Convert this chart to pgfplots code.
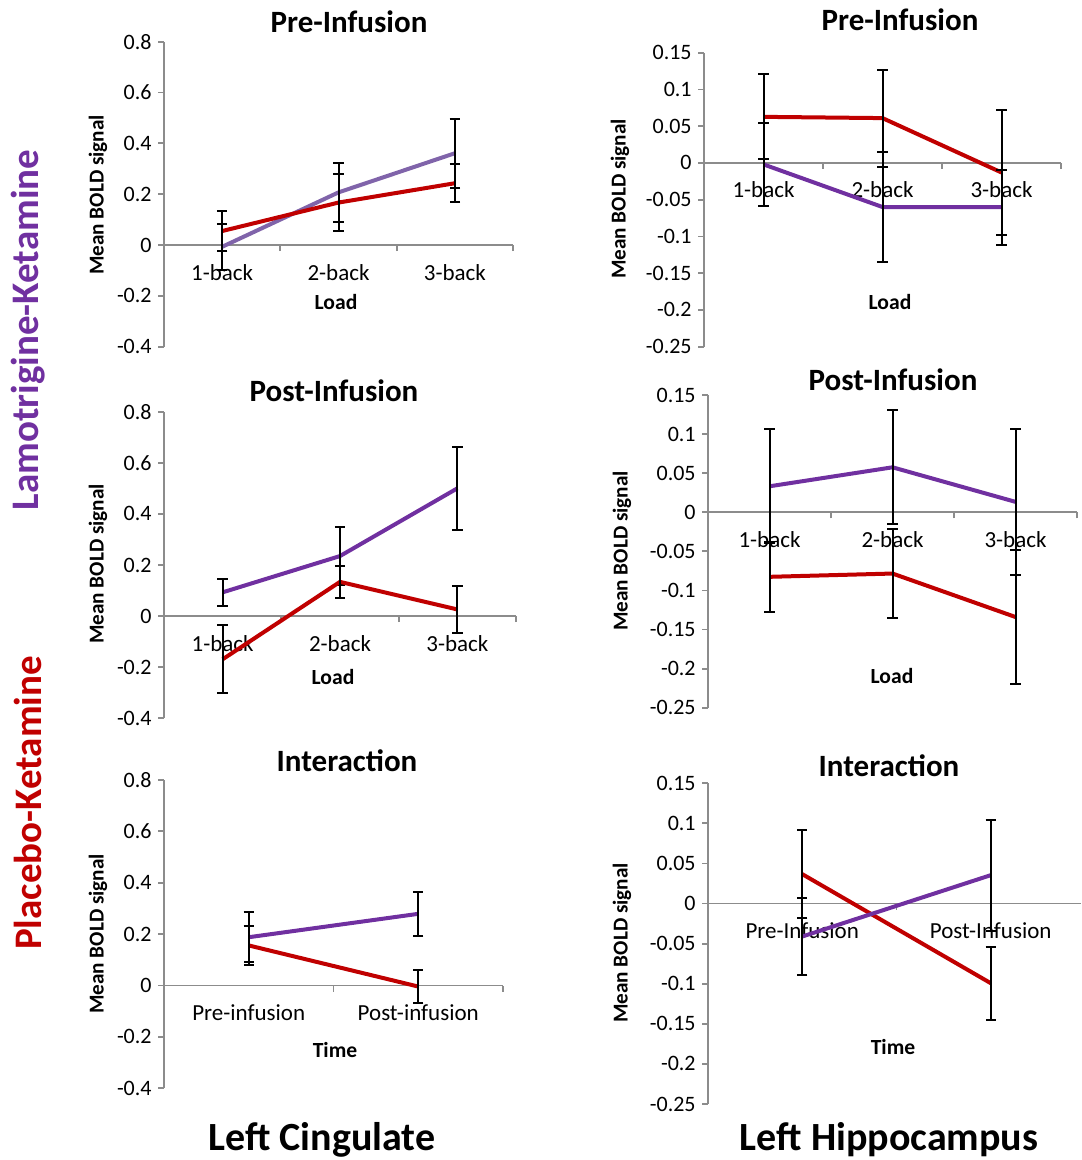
\documentclass[border=0pt]{standalone}
\usepackage{fontspec}
\setmainfont{Carlito}
\usepackage{pgfplots}
\pgfplotsset{compat=1.18}
\definecolor{axgray}{RGB}{140,140,140}
\definecolor{pur}{RGB}{112,48,160}
\definecolor{lpur}{RGB}{128,100,170}
\definecolor{dred}{RGB}{192,0,0}
\pgfplotsset{
  panel/.style={
    scale only axis, anchor=south west, clip=false,
    axis x line=middle, axis y line=left,
    axis line style={-, draw=axgray, line width=0.9pt},
    hide obscured x ticks=false, hide obscured y ticks=false,
    tick align=outside, major tick length=3pt, minor tick length=3pt,
    y tick style={draw=axgray, line width=0.9pt},
    major x tick style={draw=none},
    minor x tick style={draw=axgray, line width=0.9pt},
    yticklabel style={font=\fontsize{11}{12}\selectfont, inner sep=1pt, xshift=-2pt},
    xticklabel style={font=\fontsize{11.5}{12}\selectfont, yshift=-3pt},
  },
  lc/.style={panel, ymin=-0.4, ymax=0.8, ytick={-0.4,-0.2,0,0.2,0.4,0.6,0.8},
    yticklabels={-0.4,-0.2,0,0.2,0.4,0.6,0.8}},
  rc/.style={panel, ymin=-0.25, ymax=0.15, ytick={-0.25,-0.2,-0.15,-0.1,-0.05,0,0.05,0.1,0.15},
    yticklabels={-0.25,-0.2,-0.15,-0.1,-0.05,0,0.05,0.1,0.15}},
  load/.style={xmin=0.5, xmax=3.5, xtick={1,2,3}, xticklabels={1-back,2-back,3-back}, minor xtick={1.5,2.5,3.5}},
  ser/.style={line width=2pt, no markers,
    error bars/.cd, y dir=both, y explicit,
    error bar style={black, solid, line width=1pt},
    error mark options={rotate=90, black, mark size=2.6pt, line width=1pt}},
}
\begin{document}
\begin{tikzpicture}
\path[use as bounding box] (0,0) rectangle (540.5pt,580pt);
% Panel 1
\begin{axis}[lc, load, at={(82pt,406.65pt)}, width=174.5pt, height=152.5pt]
\addplot[lpur, ser] table[x=x,y=y,y error=e] {
x y e
1 -0.007 0.090
2 0.207 0.117
3 0.361 0.135
};
\addplot[dred, ser] table[x=x,y=y,y error=e] {
x y e
1 0.055 0.077
2 0.167 0.112
3 0.243 0.074
};
\end{axis}
% Panel 2
\begin{axis}[rc, load, at={(352pt,406.65pt)}, width=178.5pt, height=147pt]
\addplot[dred, ser] table[x=x,y=y,y error=e] {
x y e
1 0.0627 0.058
2 0.061 0.066
3 -0.013 0.085
};
\addplot[pur, ser] table[x=x,y=y,y error=e] {
x y e
1 -0.002 0.057
2 -0.060 0.075
3 -0.060 0.051
};
\end{axis}
% Panel 3
\begin{axis}[lc, load, at={(82pt,220.85pt)}, width=176pt, height=153.3pt]
\addplot[pur, ser] table[x=x,y=y,y error=e] {
x y e
1 0.093 0.054
2 0.235 0.112
3 0.500 0.163
};
\addplot[dred, ser] table[x=x,y=y,y error=e] {
x y e
1 -0.169 0.133
2 0.134 0.062
3 0.026 0.091
};
\end{axis}
% Panel 4
\begin{axis}[rc, load, at={(354pt,226.15pt)}, width=184.5pt, height=156.35pt]
\addplot[pur, ser] table[x=x,y=y,y error=e] {
x y e
1 0.0332 0.073
2 0.0575 0.073
3 0.0133 0.093
};
\addplot[dred, ser] table[x=x,y=y,y error=e] {
x y e
1 -0.0826 0.045
2 -0.0784 0.057
3 -0.134 0.086
};
\end{axis}
% Panel 5
\begin{axis}[lc, at={(82pt,35.85pt)}, width=169.5pt, height=154.15pt,
  xmin=0.5, xmax=2.5, xtick={1,2}, xticklabels={Pre-infusion,Post-infusion}, minor xtick={1.5,2.5}]
\addplot[pur, ser] table[x=x,y=y,y error=e] {
x y e
1 0.188 0.098
2 0.279 0.086
};
\addplot[dred, ser] table[x=x,y=y,y error=e] {
x y e
1 0.156 0.076
2 -0.004 0.063
};
\end{axis}
% Panel 6
\begin{axis}[rc, at={(354pt,28pt)}, width=186.5pt, height=160.35pt,
  xmin=0.5, xmax=2.479, xtick={1,2}, xticklabels={Pre-Infusion,Post-Infusion}, minor xtick={1.5}]
\addplot[dred, ser] table[x=x,y=y,y error=e] {
x y e
1 0.0367 0.055
2 -0.0993 0.0457
};
\addplot[pur, ser] table[x=x,y=y,y error=e] {
x y e
1 -0.0411 0.048
2 0.0354 0.069
};
\end{axis}
% titles
\begin{scope}[every node/.style={font=\bfseries\fontsize{15.5}{17}\selectfont}]
\node at (174.5pt,569pt) {Pre-Infusion};
\node at (450pt,570pt) {Pre-Infusion};
\node at (167pt,384.5pt) {Post-Infusion};
\node at (446.5pt,390pt) {Post-Infusion};
\node at (173.5pt,199.5pt) {Interaction};
\node at (444.5pt,197pt) {Interaction};
\end{scope}
\begin{scope}[every node/.style={font=\bfseries\fontsize{10.8}{12}\selectfont}]
\node at (168pt,429pt) {Load};
\node at (445pt,429pt) {Load};
\node at (166.5pt,241.5pt) {Load};
\node at (446pt,242pt) {Load};
\node at (167.5pt,55pt) {Time};
\node at (446.5pt,56.5pt) {Time};
\end{scope}
\begin{scope}[every node/.style={rotate=90, font=\bfseries\fontsize{10.6}{12}\selectfont}]
\node at (49pt,482.5pt) {Mean BOLD signal};
\node at (310pt,480.5pt) {Mean BOLD signal};
\node at (49pt,298pt) {Mean BOLD signal};
\node at (311pt,304.5pt) {Mean BOLD signal};
\node at (49pt,113pt) {Mean BOLD signal};
\node at (311pt,108.5pt) {Mean BOLD signal};
\end{scope}
\node[rotate=90, text=pur, font=\bfseries\fontsize{19.5}{22}\selectfont] at (14pt,415pt) {Lamotrigine-Ketamine};
\node[rotate=90, text=dred, font=\bfseries\fontsize{19.5}{22}\selectfont] at (14pt,178.5pt) {Placebo-Ketamine};
\node[font=\bfseries\fontsize{20}{22}\selectfont] at (161pt,10pt) {Left Cingulate};
\node[font=\bfseries\fontsize{20}{22}\selectfont] at (444.5pt,10pt) {Left Hippocampus};
\end{tikzpicture}
\end{document}
